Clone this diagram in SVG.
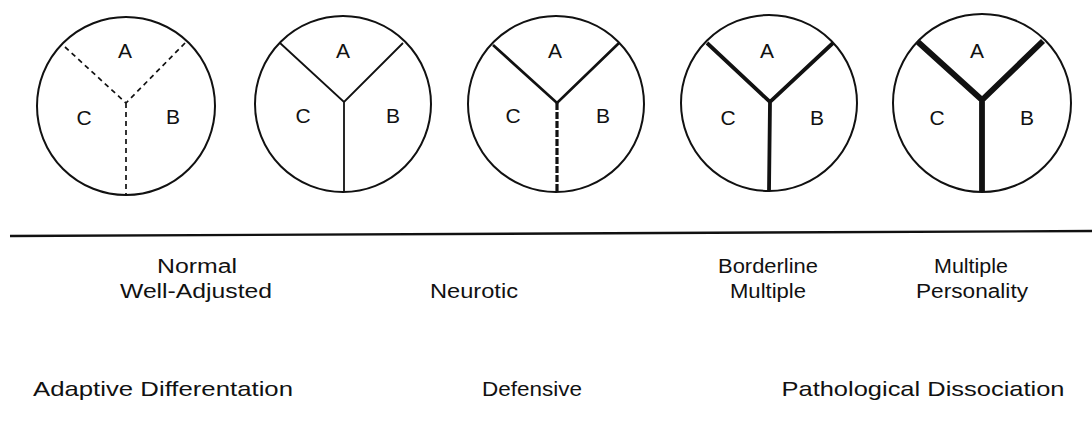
<svg xmlns="http://www.w3.org/2000/svg" width="1092" height="423" viewBox="0 0 1092 423">
<style>
.rim{fill:none;stroke:#111;stroke-width:2}
.div{fill:none;stroke:#111;stroke-linecap:butt;stroke-linejoin:miter}
.lt{font-family:"Liberation Sans",Arial,sans-serif;font-size:21px;fill:#111;text-anchor:middle}
.lbl{font-family:"Liberation Sans",Arial,sans-serif;font-size:20px;fill:#111;text-anchor:middle}
.big{font-size:21px}
</style>
<rect width="1092" height="423" fill="#fff"/>
<g id="circle1">
<circle class="rim" cx="126" cy="106" r="89"/>
<path class="div" d="M65,47 L126,103 L186,42 M126,103 L126,195" stroke-width="1.7" stroke-dasharray="5,4"/>
<text class="lt" x="125" y="58">A</text>
<text class="lt" x="84" y="125">C</text>
<text class="lt" x="173" y="124">B</text>
</g>
<g id="circle2">
<circle class="rim" cx="343" cy="104" r="88"/>
<path class="div" d="M280,43 L344,102 L403,43 M344,102 L344,192" stroke-width="1.8"/>
<text class="lt" x="343" y="58">A</text>
<text class="lt" x="303" y="123">C</text>
<text class="lt" x="393" y="123">B</text>
</g>
<g id="circle3">
<circle class="rim" cx="556" cy="104" r="88"/>
<path class="div" d="M493,45 L557,103 L619,43" stroke-width="2.7"/>
<path class="div" d="M557,103 L557,192" stroke-width="3.2" stroke-dasharray="7,2"/>
<text class="lt" x="555" y="58">A</text>
<text class="lt" x="513" y="123">C</text>
<text class="lt" x="603" y="123">B</text>
</g>
<g id="circle4">
<circle class="rim" cx="769" cy="103" r="88"/>
<path class="div" d="M707,43 L770,102 L833,43 M770,102 L769,191" stroke-width="3.8"/>
<text class="lt" x="767" y="58">A</text>
<text class="lt" x="728" y="125">C</text>
<text class="lt" x="817" y="125">B</text>
</g>
<g id="circle5">
<circle class="rim" cx="982" cy="103" r="89"/>
<path class="div" d="M918,42 L982,100 L1043,41 M982,100 L982,192" stroke-width="5.8"/>
<text class="lt" x="977" y="58">A</text>
<text class="lt" x="937" y="125">C</text>
<text class="lt" x="1027" y="125">B</text>
</g>
<g id="connectors">
<path d="M10,236 L1092,231" fill="none" stroke="#111" stroke-width="2.4"/>
</g>
<g id="labels">
<text class="lbl" x="197" y="273" textLength="80" lengthAdjust="spacingAndGlyphs">Normal</text>
<text class="lbl" x="196" y="298" textLength="152" lengthAdjust="spacingAndGlyphs">Well-Adjusted</text>
<text class="lbl" x="474" y="298" textLength="88" lengthAdjust="spacingAndGlyphs">Neurotic</text>
<text class="lbl" x="768" y="273" textLength="100" lengthAdjust="spacingAndGlyphs">Borderline</text>
<text class="lbl" x="768" y="298" textLength="76" lengthAdjust="spacingAndGlyphs">Multiple</text>
<text class="lbl" x="971" y="273" textLength="74" lengthAdjust="spacingAndGlyphs">Multiple</text>
<text class="lbl" x="972" y="298" textLength="112" lengthAdjust="spacingAndGlyphs">Personality</text>
<text class="lbl big" x="163" y="396" textLength="260" lengthAdjust="spacingAndGlyphs">Adaptive Differentation</text>
<text class="lbl big" x="532" y="396" textLength="100" lengthAdjust="spacingAndGlyphs">Defensive</text>
<text class="lbl big" x="923" y="396" textLength="283" lengthAdjust="spacingAndGlyphs">Pathological Dissociation</text>
</g>
</svg>
